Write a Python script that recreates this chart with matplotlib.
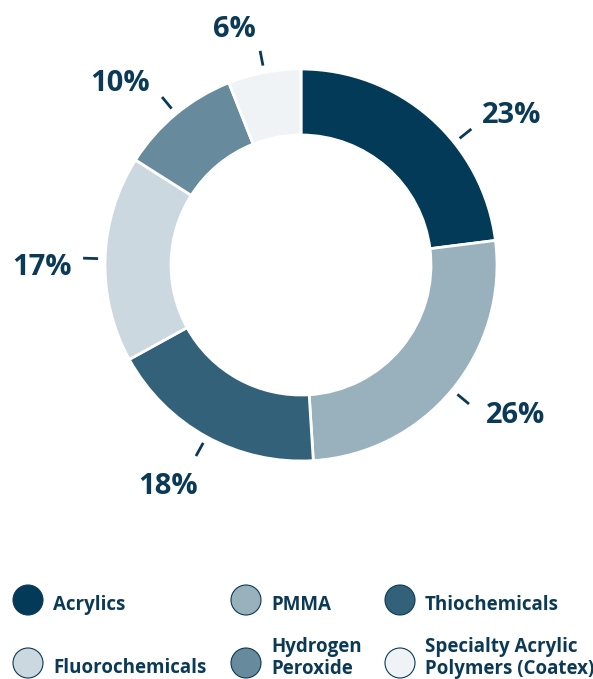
import numpy as np
import matplotlib
matplotlib.use("Agg")
import matplotlib.pyplot as plt
from matplotlib.patches import Circle

# Data
segments = ["Acrylics", "PMMA", "Thiochemicals", "Fluorochemicals",
            "Hydrogen\nPeroxide", "Specialty Acrylic\nPolymers (Coatex)"]
shares = [23, 26, 18, 17, 10, 6]
colors = ["#033a57", "#99b0bd", "#33617a", "#ccd8df", "#678a9c", "#eff3f6"]

# small angular nudges (degrees) for tick marks and label text
tick_shift = [10, 0, 0, 0, 0, 0]
label_shift = [12.6, -5.2, 2.6, -1.6, -4.8, -4.8]

text_color = "#0b3a56"
plt.rcParams['font.family'] = ['Open Sans', 'DejaVu Sans']

W, H = 593, 679
fig = plt.figure(figsize=(W / 100, H / 100), dpi=100)
ax = fig.add_axes([0, 0, 1, 1])

cx, cy = 301, H - 265
R = 196
ax.pie(shares, colors=colors, startangle=90, counterclock=False,
       radius=R, center=(cx, cy), frame=True,
       wedgeprops=dict(width=66, edgecolor='white', linewidth=2))
ax.set_xlim(0, W)
ax.set_ylim(0, H)
ax.set_aspect('equal')
ax.axis('off')

# percentage labels with short tick marks
cum = np.cumsum([0] + shares[:-1])
for i, (start, val) in enumerate(zip(cum, shares)):
    mid = (start + val / 2) / sum(shares) * 360
    a = np.deg2rad(mid + tick_shift[i])
    dx, dy = np.sin(a), np.cos(a)
    ax.plot([cx + 203 * dx, cx + 218 * dx], [cy + 203 * dy, cy + 218 * dy],
            color=text_color, lw=2, solid_capstyle='butt')
    b = np.deg2rad(mid + label_shift[i])
    lx, ly = np.sin(b), np.cos(b)
    r_lab = 229 + abs(lx) * 30 + abs(ly) * 12
    ax.text(cx + r_lab * lx, cy + r_lab * ly - 11, f"{val}%", ha='center',
            va='baseline', fontsize=21, fontweight='bold', color=text_color)

# legend
leg_x = [28, 246, 400]
leg_y = [H - 600, H - 663]
for i, (name, col) in enumerate(zip(segments, colors)):
    row, colm = divmod(i, 3)
    x, y = leg_x[colm], leg_y[row]
    ax.add_patch(Circle((x, y), 15, facecolor=col, edgecolor=text_color, lw=0.8))
    if row == 0:
        ty = H - 605
    elif "\n" in name:
        ty = H - 658
    else:
        ty = H - 668
    ax.text(x + 25, ty, name, ha='left', va='center', fontsize=13.5,
            fontweight='bold', color=text_color, linespacing=1.1)

fig.savefig("out.png", dpi=100)
